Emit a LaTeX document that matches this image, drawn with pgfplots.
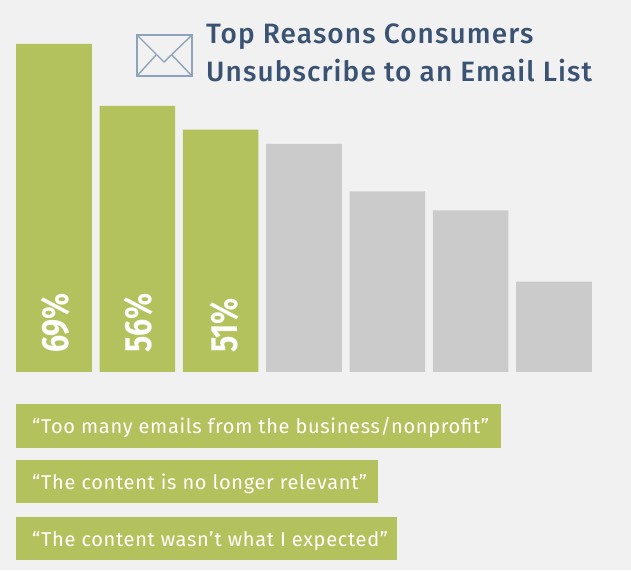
\documentclass[border=0pt]{standalone}
\usepackage{fontspec}
\usepackage{pgfplots}
\pgfplotsset{compat=1.18}
\setmainfont{Fira Sans}
\definecolor{bgc}{HTML}{F1F1F1}
\definecolor{grn}{HTML}{B3C25C}
\definecolor{gry}{HTML}{CBCBCB}
\definecolor{ttl}{HTML}{3B5373}
\definecolor{env}{HTML}{8DA4BC}
\newfontfamily\ttlfont[LetterSpace=4.0]{Fira Sans Medium}
\newfontfamily\lblfont[LetterSpace=3.4]{Fira Sans}
\newcommand{\px}[2]{(#1pt,{570pt-#2pt})}
\begin{document}
\begin{tikzpicture}[x=1pt,y=1pt]
\fill[bgc] (0,0) rectangle (631pt,570pt);
\begin{axis}[
  at={(0,0)},anchor=south west,
  scale only axis,width=631pt,height=570pt,
  xmin=-0.648,xmax=6.924,ymin=-41.65,ymax=78.25,
  axis lines=none,ybar,bar width=75.6pt,bar shift=0pt,clip=false]
\addplot[fill=grn,draw=none] coordinates {(0,69)(1,56)(2,51)};
\addplot[fill=gry,draw=none] coordinates {(3,48)(4,38)(5,34)(6,19)};
\node[rotate=90,anchor=west,inner sep=0,white] at (axis cs:0.02,4) {\fontsize{38}{38}\bfseries\scalebox{0.8}[1]{69\%}};
\node[rotate=90,anchor=west,inner sep=0,white] at (axis cs:1.02,4) {\fontsize{38}{38}\bfseries\scalebox{0.8}[1]{56\%}};
\node[rotate=90,anchor=west,inner sep=0,white] at (axis cs:2.045,4) {\fontsize{38}{38}\bfseries\scalebox{0.8}[1]{51\%}};
\end{axis}
\fill[grn] \px{16}{404} rectangle \px{501}{448};
\fill[grn] \px{16}{460} rectangle \px{378}{503};
\fill[grn] \px{16}{517} rectangle \px{397}{560};
\node[anchor=base west,inner sep=0,white] at \px{32}{434} {\fontsize{20}{20}\lblfont “Too many emails from the business/nonprofit”};
\node[anchor=base west,inner sep=0,white] at \px{32}{489} {\fontsize{20}{20}\lblfont “The content is no longer relevant”};
\node[anchor=base west,inner sep=0,white] at \px{32}{546} {\fontsize{20}{20}\lblfont “The content wasn’t what I expected”};
\node[anchor=base west,inner sep=0,ttl] at \px{206}{44} {\fontsize{28}{28}\ttlfont Top Reasons Consumers};
\node[anchor=base west,inner sep=0,ttl] at \px{206}{82} {\fontsize{28}{28}\ttlfont Unsubscribe to an Email List};
\draw[env,line width=1.6pt] \px{137}{35} rectangle \px{192}{76};
\draw[env,line width=1.4pt] \px{137}{35} -- \px{164}{62} -- \px{192}{35};
\draw[env,line width=1.4pt] \px{137}{76} -- \px{156}{55};
\draw[env,line width=1.4pt] \px{192}{76} -- \px{172}{55};
\end{tikzpicture}
\end{document}
